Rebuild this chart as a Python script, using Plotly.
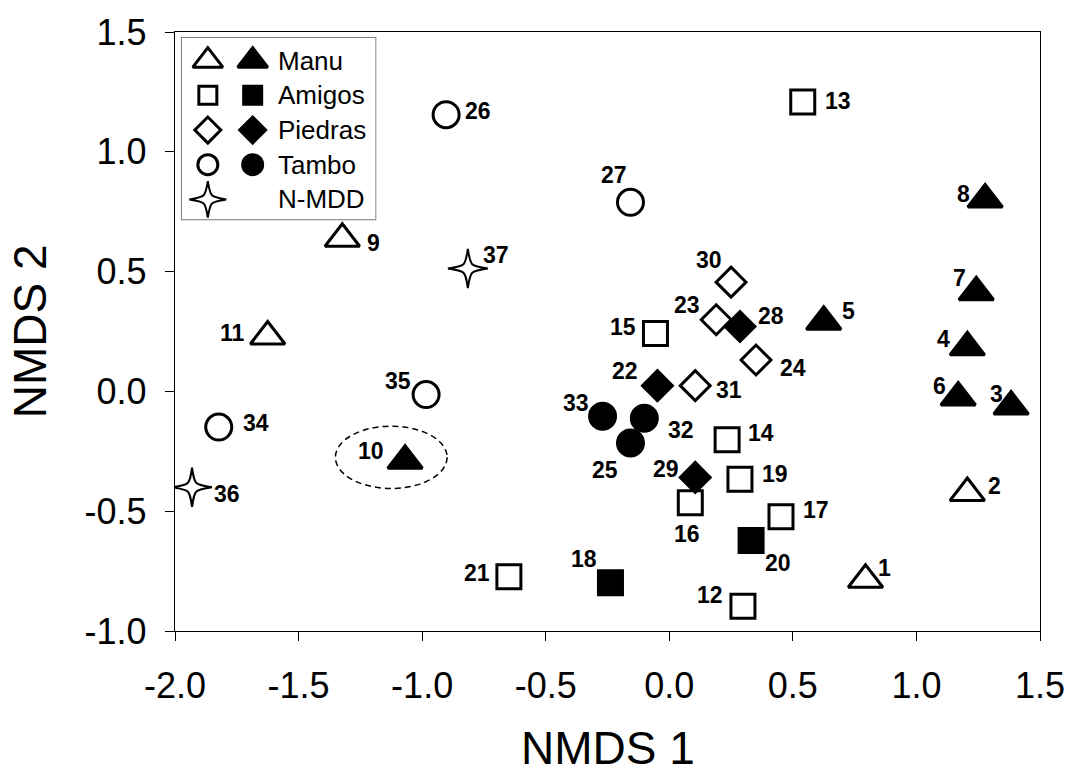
import plotly.graph_objects as go

# ---------------- data ----------------
site = list(range(1, 38))
nmds1 = [0.794, 1.206, 1.383, 1.206, 0.625, 1.169, 1.242, 1.278, -1.323, -1.069,
         -1.625, 0.298, 0.540, 0.234, -0.056, 0.085, 0.452, -0.238, 0.286, 0.331,
         -0.649, -0.048, 0.190, 0.351, -0.157, -0.903, -0.157, 0.286, 0.105, 0.250,
         0.105, -0.101, -0.270, -1.823, -0.984, -1.931, -0.815]
nmds2 = [-0.786, -0.424, -0.063, 0.184, 0.291, -0.025, 0.414, 0.801, 0.637, -0.289,
         0.229, -0.897, 1.208, -0.202, 0.242, -0.465, -0.523, -0.799, -0.367, -0.622,
         -0.774, 0.024, 0.299, 0.131, -0.215, 1.155, 0.789, 0.271, -0.359, 0.456,
         0.024, -0.112, -0.104, -0.149, -0.013, -0.400, 0.513]
region = (["Manu"] * 11 + ["Amigos"] * 10 +
          ["Piedras", "Piedras", "Piedras", "Tambo", "Tambo", "Tambo", "Piedras",
           "Piedras", "Piedras", "Piedras", "Tambo", "Tambo", "Tambo", "Tambo",
           "N-MDD", "N-MDD"])
filled = [0, 0, 1, 1, 1, 1, 1, 1, 0, 1, 0,
          0, 0, 0, 0, 0, 0, 1, 0, 1, 0,
          1, 0, 0, 1, 0, 0, 1, 1, 0, 0, 1, 1, 0, 0, 0, 0]

regions = ["Manu", "Amigos", "Piedras", "Tambo", "N-MDD"]
x_ticks = [-2.0, -1.5, -1.0, -0.5, 0.0, 0.5, 1.0, 1.5]
y_ticks = [-1.0, -0.5, 0.0, 0.5, 1.0, 1.5]
highlight_site = 10

# ---------------- styles ----------------
FONT = "Liberation Sans, Arial, sans-serif"
X_RANGE = [-2.0, 1.5]
Y_RANGE = [-1.0, 1.5]
W, H = 1077, 773
M = dict(l=175, r=34, t=23, b=142)
PX_X = (X_RANGE[1] - X_RANGE[0]) / (W - M["l"] - M["r"])   # data units per px
PX_Y = (Y_RANGE[1] - Y_RANGE[0]) / (H - M["t"] - M["b"])

symbols = {"Manu": "triangle-up", "Amigos": "square", "Piedras": "diamond",
           "Tambo": "circle", "N-MDD": "star-diamond"}
size_plot = {"Manu": 30, "Amigos": 24, "Piedras": 23, "Tambo": 26}
size_leg = {"Manu": 26, "Amigos": 18, "Piedras": 20, "Tambo": 20}
lw = 3

# label offsets in pixels (dx right, dy down) relative to marker
label_offset = {
    1: (19, -12), 2: (27, -7), 3: (-15, -12), 4: (-24, -8), 5: (25, -11),
    6: (-19, -11), 7: (-17, -14), 8: (-22, -5), 9: (31, 4), 10: (-34, -10),
    11: (-35, -4), 12: (-33, -11), 13: (35, -1), 14: (34, -7), 15: (-32, -6),
    16: (-3, 31), 17: (35, -7), 18: (-26, -24), 19: (35, -5), 20: (27, 23),
    21: (-32, -4), 22: (-32, -15), 23: (-29, -15), 24: (37, 8), 25: (-25, 27),
    26: (32, -4), 27: (-16, -27), 28: (31, -10), 29: (-29, -8), 30: (-22, -22),
    31: (34, 4), 32: (37, 12), 33: (-27, -13), 34: (37, -4), 35: (-28, -14),
    36: (35, 7), 37: (28, -13),
}


def star_path(x, y, R, c, ux, uy):
    """4-pointed concave star centred on (x, y); R, c in px, ux/uy data units per px."""
    L, T, Rt, B = (x - R * ux, y), (x, y + R * uy), (x + R * ux, y), (x, y - R * uy)
    ctl = [(x - c * ux, y + c * uy), (x + c * ux, y + c * uy),
           (x + c * ux, y - c * uy), (x - c * ux, y - c * uy)]
    pts = [L, T, Rt, B, L]
    p = f"M{pts[0][0]},{pts[0][1]}"
    for k in range(4):
        cx_, cy_ = ctl[k]
        ex, ey = pts[k + 1]
        p += f" C{cx_},{cy_} {cx_},{cy_} {ex},{ey}"
    return p + " Z"


fig = go.Figure()
shapes = []

# main scatter traces: open first, filled on top
for fl in (0, 1):
    for reg in regions:
        idx = [i for i in range(len(site)) if region[i] == reg and filled[i] == fl]
        if not idx:
            continue
        if reg == "N-MDD":
            # anchor points (tiny) + star outlines drawn through the data axes
            fig.add_trace(go.Scatter(
                x=[nmds1[i] for i in idx], y=[nmds2[i] for i in idx],
                mode="markers", showlegend=False, cliponaxis=False,
                marker=dict(size=2, color="white")))
            for i in idx:
                shapes.append(dict(type="path", xref="x", yref="y",
                                   path=star_path(nmds1[i], nmds2[i], 20, 2.5, PX_X, PX_Y),
                                   line=dict(color="black", width=2), fillcolor="white"))
            continue
        fig.add_trace(go.Scatter(
            x=[nmds1[i] for i in idx], y=[nmds2[i] for i in idx],
            mode="markers", showlegend=False, cliponaxis=False,
            marker=dict(symbol=symbols[reg], size=size_plot[reg],
                        color="black" if fl else "white",
                        line=dict(color="black", width=lw)),
        ))

annotations = []
for i, s in enumerate(site):
    dx, dy = label_offset[s]
    annotations.append(dict(
        x=nmds1[i], y=nmds2[i], xref="x", yref="y", text=f"<b>{s}</b>",
        showarrow=False, xshift=dx, yshift=-dy, xanchor="center", yanchor="middle",
        font=dict(family=FONT, size=23, color="black")))

# ---------------- custom legend (two symbols per row) ----------------
LEG_X = [0.008, 0.2316]
LEG_Y = [0.6875, 0.990]
leg_w = (LEG_X[1] - LEG_X[0]) * (W - M["l"] - M["r"])
leg_h = (LEG_Y[1] - LEG_Y[0]) * (H - M["t"] - M["b"])
leg_yrange = [4.57, -0.653]
leg_uy = (leg_yrange[0] - leg_yrange[1]) / leg_h
for r, reg in enumerate(regions):
    if reg == "N-MDD":
        shapes.append(dict(type="path", xref="x2", yref="y2",
                           path=star_path(26, r, 18.5, 2.5, 1.0, leg_uy),
                           line=dict(color="black", width=2), fillcolor="white"))
    else:
        fig.add_trace(go.Scatter(
            x=[26, 71], y=[r, r], xaxis="x2", yaxis="y2", mode="markers",
            showlegend=False, cliponaxis=False,
            marker=dict(symbol=symbols[reg], size=size_leg[reg], color=["white", "black"],
                        line=dict(color="black", width=lw))))
    annotations.append(dict(x=94, y=r, xref="x2", yref="y2", text=reg,
                            showarrow=False, xanchor="left", yanchor="middle",
                            font=dict(family=FONT, size=26, color="black")))

# axis titles
annotations.append(dict(x=0.5, y=-0.196, xref="paper", yref="paper", text="NMDS 1",
                        showarrow=False, xanchor="center", yanchor="middle",
                        font=dict(family=FONT, size=46, color="black")))
annotations.append(dict(x=-0.168, y=0.5, xref="paper", yref="paper", text="NMDS 2",
                        showarrow=False, xanchor="center", yanchor="middle",
                        textangle=-90,
                        font=dict(family=FONT, size=46, color="black")))

# dashed ellipse around highlighted site
hi = site.index(highlight_site)
cx, cy = nmds1[hi] - 0.056, nmds2[hi] + 0.014
shapes += [
    dict(type="circle", xref="x", yref="y", x0=cx - 0.226, x1=cx + 0.226,
         y0=cy - 0.13, y1=cy + 0.13, line=dict(color="black", width=1.5, dash="6px,4px")),
    dict(type="rect", xref="paper", yref="paper", x0=LEG_X[0], x1=LEG_X[1],
         y0=LEG_Y[0], y1=LEG_Y[1],
         line=dict(color="#808080", width=2), fillcolor="white", layer="below"),
]

axis_common = dict(showline=True, linecolor="black", linewidth=1.3, mirror=True,
                   ticks="outside", ticklen=9, tickwidth=1.3, tickcolor="black",
                   showgrid=False, zeroline=False,
                   tickfont=dict(family=FONT, size=36, color="black"))

fig.update_layout(
    width=W, height=H, autosize=False,
    margin=M,
    paper_bgcolor="white", plot_bgcolor="white",
    xaxis=dict(range=X_RANGE, tickvals=x_ticks,
               ticktext=[f"{v:.1f}" for v in x_ticks], ticklabelstandoff=14,
               **axis_common),
    yaxis=dict(range=Y_RANGE, tickvals=y_ticks,
               ticktext=[f"{v:.1f}" for v in y_ticks], ticklabelstandoff=11,
               **axis_common),
    xaxis2=dict(domain=LEG_X, range=[0, leg_w], visible=False,
                anchor="y2", fixedrange=True),
    yaxis2=dict(domain=LEG_Y, range=leg_yrange, visible=False,
                anchor="x2", fixedrange=True),
    annotations=annotations,
    shapes=shapes,
    showlegend=False,
)

fig.write_html("out.html")
